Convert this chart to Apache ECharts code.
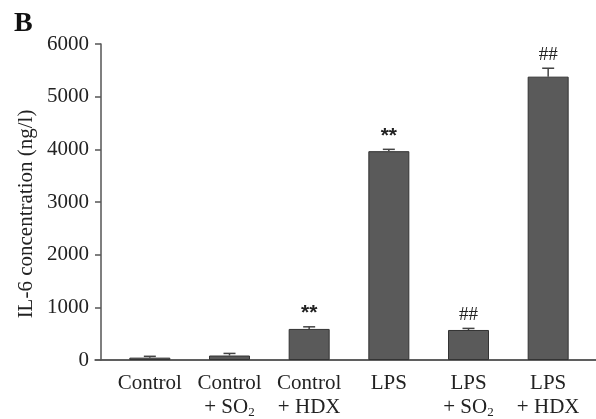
<!DOCTYPE html>
<html>
<head>
<meta charset="utf-8">
<script src="https://cdn.jsdelivr.net/npm/echarts@6/dist/echarts.min.js"></script>
<style>
  html, body { margin: 0; padding: 0; background: #fff; }
  #chart { width: 596px; height: 419px; }
</style>
</head>
<body>
<div id="chart"></div>
<script>
// data
const categories = ['Control', 'Control\n+ SO{sub|2}', 'Control\n+ HDX', 'LPS', 'LPS\n+ SO{sub|2}', 'LPS\n+ HDX']
const meanValues = [45, 85, 590, 3965, 570, 5380]
const errValues = [25, 40, 40, 35, 30, 160]
const marks = ['', '', '**', '**', '##', '##']
const yTicks = [0, 1000, 2000, 3000, 4000, 5000, 6000]

const serif = 'Liberation Serif'
const axisColor = '#555'

const chart = echarts.init(document.getElementById('chart'))

// error bars + significance marks
const errData = meanValues.map((v, i) => [i, v, errValues[i], marks[i]])
const renderErr = (params, api) => {
  const x = api.value(0)
  const v = api.value(1)
  const e = api.value(2)
  const mark = errData[params.dataIndex][3]
  const base = api.coord([x, v])
  const top = api.coord([x, v + e])
  const half = 6
  const children = [
    { type: 'line', shape: { x1: base[0], y1: base[1], x2: top[0], y2: top[1] }, style: { stroke: '#444', lineWidth: 1.5 } },
    { type: 'line', shape: { x1: top[0] - half, y1: top[1], x2: top[0] + half, y2: top[1] }, style: { stroke: '#444', lineWidth: 1.5 } }
  ]
  if (mark) {
    const isStar = mark === '**'
    children.push({
      type: 'text',
      style: {
        x: top[0], y: top[1] - (isStar ? 3 : 4),
        text: mark,
        align: 'center', verticalAlign: 'bottom',
        font: isStar ? 'bold 21px "Liberation Sans"' : '19px "Liberation Serif"',
        fill: '#222'
      }
    })
  }
  return { type: 'group', children }
}

const option = {
  animation: false,
  grid: [
    { left: 95, right: 0, top: 44, bottom: 59 },
    { left: 101, right: 0, top: 44, bottom: 59 },
    { left: 110, right: 8, top: 44, bottom: 59 }
  ],
  xAxis: [
    { gridIndex: 0, type: 'value', min: 0, max: 1, position: 'bottom',
      axisLine: { show: true, lineStyle: { color: axisColor, width: 1.5 } },
      axisTick: { show: false }, axisLabel: { show: false }, splitLine: { show: false } },
    { gridIndex: 1, type: 'value', min: 0, max: 1, position: 'top',
      axisLine: { show: true, lineStyle: { color: axisColor, width: 1.5 } },
      axisTick: { show: false }, axisLabel: { show: false }, splitLine: { show: false } },
    { gridIndex: 2, type: 'category', data: categories, position: 'bottom',
      axisLine: { show: false }, axisTick: { show: false },
      axisLabel: {
        interval: 0, margin: 11, color: '#222', fontFamily: serif, fontSize: 21, lineHeight: 24,
        rich: { sub: { fontFamily: serif, fontSize: 13, verticalAlign: 'bottom', padding: [14, 0, 0, 0] } }
      } }
  ],
  yAxis: [
    { gridIndex: 0, type: 'value', min: 0, max: 6000, show: false },
    { gridIndex: 1, type: 'value', min: 0, max: 6000, interval: 1000,
      axisLine: { show: true, lineStyle: { color: axisColor, width: 1.5 } },
      axisTick: { show: true, length: 6, lineStyle: { color: axisColor, width: 1.5 } },
      axisLabel: { margin: 12, color: '#222', fontFamily: serif, fontSize: 21,
        formatter: v => yTicks.includes(v) ? String(v) : '' },
      splitLine: { show: false } },
    { gridIndex: 2, type: 'value', min: 0, max: 6000, show: false }
  ],
  graphic: [
    { type: 'text', left: 14, top: 10, style: { text: 'B', font: 'bold 28px "Liberation Serif"', fill: '#111' } },
    { type: 'text', x: 26, y: 214, rotation: Math.PI / 2,
      style: { text: 'IL-6 concentration (ng/l)', font: '21px "Liberation Serif"', fill: '#222', align: 'center', verticalAlign: 'middle' } }
  ],
  series: [
    { type: 'bar', xAxisIndex: 2, yAxisIndex: 2, data: meanValues, barWidth: 41,
      itemStyle: { color: '#5a5a5a', borderColor: '#333', borderWidth: 1 } },
    { type: 'custom', xAxisIndex: 2, yAxisIndex: 2, data: errData, renderItem: renderErr, z: 3 }
  ]
}
chart.setOption(option)
</script>
</body>
</html>
